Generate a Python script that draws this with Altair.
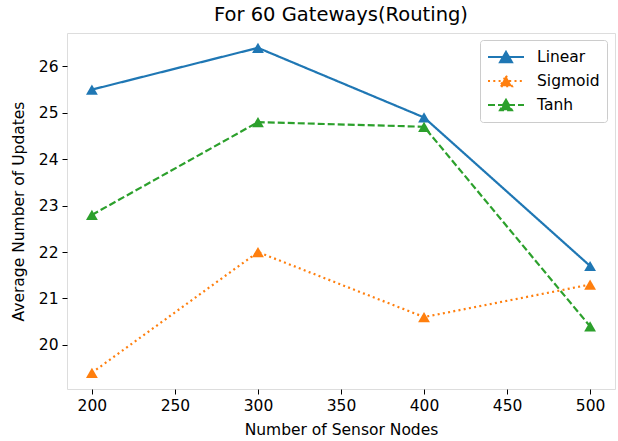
import altair as alt
import pandas as pd

# Number of sensor nodes on the x axis
nodes = [200, 300, 400, 500]

# Average number of updates per activation function
linear = [25.5, 26.4, 24.9, 21.7]
sigmoid = [19.4, 22.0, 20.6, 21.3]
tanh = [22.8, 24.8, 24.7, 20.4]

series_names = ["Linear", "Sigmoid", "Tanh"]
series_colors = ["#1f77b4", "#ff7f0e", "#2ca02c"]
series_dashes = [[1, 0], [2, 3.3], [7, 3]]

x_ticks = [200, 250, 300, 350, 400, 450, 500]
y_ticks = [20, 21, 22, 23, 24, 25, 26]

rows = []
for name, values in zip(series_names, [linear, sigmoid, tanh]):
    for n, v in zip(nodes, values):
        rows.append({"nodes": n, "updates": v, "series": name})
df = pd.DataFrame(rows)

FONT = "DejaVu Sans"

x = alt.X(
    "nodes:Q",
    title="Number of Sensor Nodes",
    scale=alt.Scale(domain=[185, 515], nice=False, zero=False),
    axis=alt.Axis(values=x_ticks, grid=False, domain=False, tickSize=5,
                  tickColor="black", labelPadding=4, labelFontSize=15.5,
                  labelColor="black", titleFontSize=15.5, titleColor="black",
                  titleFontWeight="normal", titlePadding=9, labelFont=FONT,
                  titleFont=FONT),
)
y = alt.Y(
    "updates:Q",
    title="Average Number of Updates",
    scale=alt.Scale(domain=[19.05, 26.72], nice=False, zero=False),
    axis=alt.Axis(values=y_ticks, grid=False, domain=False, tickSize=5,
                  tickColor="black", labelPadding=4, labelFontSize=15.5,
                  labelColor="black", titleFontSize=15.5, titleColor="black",
                  titleFontWeight="normal", titlePadding=12, labelFont=FONT,
                  titleFont=FONT),
)

# Legend key: a short line segment with a triangle in its middle
color = alt.Color(
    "series:N",
    scale=alt.Scale(domain=series_names, range=series_colors),
    legend=alt.Legend(
        title=None, orient="none", legendX=413, legendY=7,
        symbolType="M-1,0H3M1,-0.58L1.67,0.58L0.33,0.58Z",
        symbolSize=324, symbolStrokeWidth=2, labelFontSize=15.5,
        labelFont=FONT, labelColor="black", rowPadding=4, labelOffset=30,
        padding=7, strokeColor="#cccccc", fillColor="white", cornerRadius=3,
    ),
)
dash = alt.StrokeDash(
    "series:N",
    scale=alt.Scale(domain=series_names, range=series_dashes),
    legend=None,
)

lines = alt.Chart(df).mark_line(strokeWidth=2.2).encode(
    x=x, y=y, color=color, strokeDash=dash
)
points = alt.Chart(df).mark_point(
    shape="triangle-up", filled=True, size=140, opacity=1
).encode(x=x, y=y, color=alt.Color("series:N", legend=None,
                                    scale=alt.Scale(domain=series_names, range=series_colors)))

chart = (
    alt.layer(lines, points)
    .properties(
        width=548,
        height=356,
        padding={"left": 67, "top": 33, "right": 3, "bottom": 52},
        autosize=alt.AutoSizeParams(type="none"),
        title=alt.Title("For 60 Gateways(Routing)", fontSize=19.5, font=FONT,
                        fontWeight="normal", color="black", offset=8),
    )
    .configure_view(stroke="black", strokeWidth=1.2)
    .configure(background="white")
)

chart.save("out.html", embed_options={"renderer": "svg", "actions": False})
